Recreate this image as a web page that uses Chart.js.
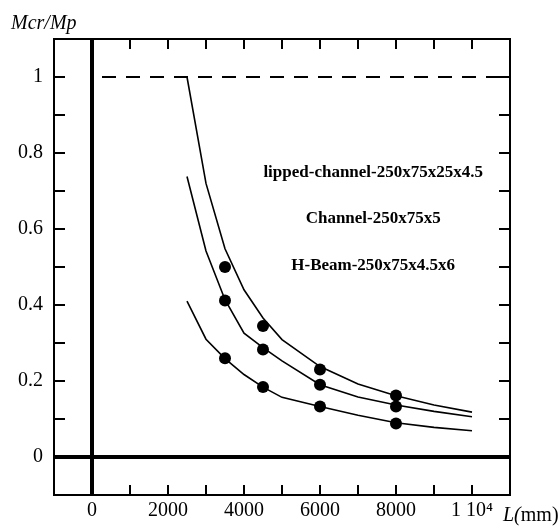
<!DOCTYPE html>
<html>
<head>
<meta charset="utf-8">
<script src="https://cdn.jsdelivr.net/npm/chart.js@4/dist/chart.umd.min.js"></script>
<style>
  body { margin: 0; background: #fff; }
  canvas { display: block; }
</style>
</head>
<body>
<canvas id="chart" width="558" height="527"></canvas>
<script>
// Theoretical curves (Mcr/Mp against L)
const lengths = [2500, 3000, 3500, 4000, 4500, 5000, 6000, 7000, 8000, 9000, 10000];
const lippedCurve = [1.0, 0.72, 0.548, 0.44, 0.366, 0.309, 0.238, 0.192, 0.161, 0.137, 0.118];
const channelCurve = [0.738, 0.542, 0.414, 0.326, 0.288, 0.253, 0.19, 0.158, 0.137, 0.12, 0.106];
const hbeamCurve = [0.41, 0.31, 0.259, 0.217, 0.184, 0.157, 0.133, 0.11, 0.09, 0.078, 0.069];

// Test points
const testLengths = [3500, 4500, 6000, 8000];
const lippedTest = [0.5, 0.345, 0.23, 0.162];
const channelTest = [0.412, 0.283, 0.19, 0.133];
const hbeamTest = [0.26, 0.184, 0.133, 0.088];

// Mp reference line
const refLengths = [0, 11000];
const refValues = [1, 1];

// Axis ticks
const xLabelTicks = [0, 2000, 4000, 6000, 8000, 10000];
const yLabelTicks = [0, 0.2, 0.4, 0.6, 0.8, 1];
const xMinorTicks = [1000, 2000, 3000, 4000, 5000, 6000, 7000, 8000, 9000, 10000];
const yMinorTicks = [0.1, 0.2, 0.3, 0.4, 0.5, 0.6, 0.7, 0.8, 0.9, 1.0];

const serif = "'Liberation Serif', 'Times New Roman', serif";

const toPoints = (xs, ys) => xs.map((x, i) => ({ x: x, y: ys[i] }));

function curve(values) {
    return {
        data: toPoints(lengths, values),
        showLine: true,
        borderColor: '#000',
        borderWidth: 1.6,
        pointRadius: 0,
        tension: 0
    };
}

function tests(values) {
    return {
        data: toPoints(testLengths, values),
        showLine: false,
        pointRadius: 6,
        pointBackgroundColor: '#000',
        pointBorderColor: '#000',
        pointBorderWidth: 0
    };
}

// Frame, inward ticks, thick axes and labels
const framePlugin = {
    id: 'frame',
    beforeDatasetsDraw(chart) {
        const { ctx, chartArea: a, scales: { x, y } } = chart;
        ctx.save();
        ctx.strokeStyle = '#000';
        ctx.lineWidth = 4;
        ctx.beginPath();
        const x0 = x.getPixelForValue(0);
        const y0 = y.getPixelForValue(0);
        ctx.moveTo(x0, a.top);
        ctx.lineTo(x0, a.bottom);
        ctx.moveTo(a.left, y0);
        ctx.lineTo(a.right, y0);
        ctx.stroke();
        ctx.restore();
    },
    afterDraw(chart) {
        const { ctx, chartArea: a, scales: { x, y } } = chart;
        ctx.save();
        ctx.strokeStyle = '#000';
        ctx.lineWidth = 2;
        ctx.beginPath();
        xMinorTicks.forEach(v => {
            const px = x.getPixelForValue(v);
            ctx.moveTo(px, a.bottom);
            ctx.lineTo(px, a.bottom - 10);
            ctx.moveTo(px, a.top);
            ctx.lineTo(px, a.top + 10);
        });
        yMinorTicks.forEach(v => {
            const py = y.getPixelForValue(v);
            ctx.moveTo(a.left, py);
            ctx.lineTo(a.left + 11, py);
            ctx.moveTo(a.right, py);
            ctx.lineTo(a.right - 11, py);
        });
        ctx.stroke();
        ctx.strokeRect(a.left, a.top, a.right - a.left, a.bottom - a.top);

        // section names
        ctx.fillStyle = '#000';
        ctx.textAlign = 'center';
        ctx.textBaseline = 'middle';
        ctx.font = 'bold 17px ' + serif;
        const cx = x.getPixelForValue(7400);
        ctx.fillText('lipped-channel-250x75x25x4.5', cx, y.getPixelForValue(0.749));
        ctx.fillText('Channel-250x75x5', cx, y.getPixelForValue(0.627));
        ctx.fillText('H-Beam-250x75x4.5x6', cx, y.getPixelForValue(0.504));

        // axis titles
        ctx.textAlign = 'left';
        ctx.textBaseline = 'alphabetic';
        ctx.font = 'italic 20px ' + serif;
        ctx.fillText('Mcr/Mp', 11, 29);
        ctx.fillText('L(', 503, 521);
        const w = ctx.measureText('L(').width;
        ctx.font = '20px ' + serif;
        ctx.fillText('mm)', 503 + w, 521);
        ctx.restore();
    }
};

new Chart(document.getElementById('chart'), {
    type: 'scatter',
    data: {
        datasets: [
            {
                data: toPoints(refLengths, refValues),
                showLine: true,
                borderColor: '#000',
                borderWidth: 2,
                borderDash: [14, 10],
                borderDashOffset: 14,
                pointRadius: 0
            },
            curve(lippedCurve),
            curve(channelCurve),
            curve(hbeamCurve),
            tests(lippedTest),
            tests(channelTest),
            tests(hbeamTest)
        ]
    },
    options: {
        responsive: false,
        animation: false,
        layout: { padding: { top: 39, right: 48, left: 0, bottom: 0 } },
        plugins: {
            legend: { display: false },
            tooltip: { enabled: false }
        },
        scales: {
            x: {
                type: 'linear',
                min: -1000,
                max: 11000,
                afterFit: s => { s.height = 32; },
                afterBuildTicks: s => { s.ticks = xLabelTicks.map(v => ({ value: v })); },
                grid: { display: false, drawTicks: false },
                border: { display: false },
                ticks: {
                    autoSkip: false,
                    maxRotation: 0,
                    padding: 4,
                    color: '#000',
                    font: { family: serif, size: 20 },
                    callback: v => v === 10000 ? '1 10\u2074' : String(v)
                }
            },
            y: {
                type: 'linear',
                min: -0.1,
                max: 1.1,
                afterFit: s => { s.width = 54; },
                afterBuildTicks: s => { s.ticks = yLabelTicks.map(v => ({ value: v })); },
                grid: { display: false, drawTicks: false },
                border: { display: false },
                ticks: {
                    padding: 11,
                    color: '#000',
                    font: { family: serif, size: 20 },
                    callback: v => String(v)
                }
            }
        }
    },
    plugins: [framePlugin]
});
</script>
</body>
</html>
